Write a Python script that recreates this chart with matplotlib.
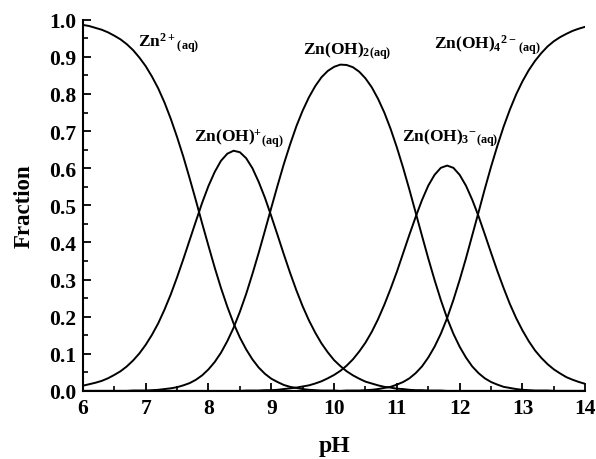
import numpy as np
import matplotlib.pyplot as plt
from matplotlib.ticker import MultipleLocator

plt.rcParams['font.family'] = ['Liberation Serif', 'DejaVu Serif']
plt.rcParams['font.weight'] = 'bold'
plt.rcParams['mathtext.fontset'] = 'custom'
plt.rcParams['mathtext.rm'] = 'Liberation Serif:bold'
plt.rcParams['mathtext.bf'] = 'Liberation Serif:bold'
plt.rcParams['mathtext.it'] = 'Liberation Serif:bold'

# pH grid and fractions (0.1 steps)
ph = [6.0, 6.1, 6.2, 6.3, 6.4, 6.5, 6.6, 6.7, 6.8, 6.9,
      7.0, 7.1, 7.2, 7.3, 7.4, 7.5, 7.6, 7.7, 7.8, 7.9,
      8.0, 8.1, 8.2, 8.3, 8.4, 8.5, 8.6, 8.7, 8.8, 8.9,
      9.0, 9.1, 9.2, 9.3, 9.4, 9.5, 9.6, 9.7, 9.8, 9.9,
      10.0, 10.1, 10.2, 10.3, 10.4, 10.5, 10.6, 10.7, 10.8, 10.9,
      11.0, 11.1, 11.2, 11.3, 11.4, 11.5, 11.6, 11.7, 11.8, 11.9,
      12.0, 12.1, 12.2, 12.3, 12.4, 12.5, 12.6, 12.7, 12.8, 12.9,
      13.0, 13.1, 13.2, 13.3, 13.4, 13.5, 13.6, 13.7, 13.8, 13.9, 14.0]

zn = [0.986, 0.983, 0.978, 0.973, 0.966, 0.957, 0.947, 0.934, 0.918, 0.898,
      0.875, 0.847, 0.815, 0.777, 0.733, 0.684, 0.631, 0.573, 0.513, 0.451,
      0.391, 0.332, 0.277, 0.227, 0.182, 0.144, 0.112, 0.085, 0.063, 0.046,
      0.033, 0.024, 0.016, 0.011, 0.008, 0.005, 0.003, 0.002, 0.001, 0.001,
      0.001, 0.0, 0.0, 0.0, 0.0, 0.0, 0.0, 0.0, 0.0, 0.0,
      0.0, 0.0, 0.0, 0.0, 0.0, 0.0, 0.0, 0.0, 0.0, 0.0,
      0.0, 0.0, 0.0, 0.0, 0.0, 0.0, 0.0, 0.0, 0.0, 0.0,
      0.0, 0.0, 0.0, 0.0, 0.0, 0.0, 0.0, 0.0, 0.0, 0.0, 0.0]

znoh = [0.014, 0.018, 0.022, 0.027, 0.034, 0.043, 0.053, 0.066, 0.082, 0.101,
        0.124, 0.151, 0.182, 0.219, 0.260, 0.306, 0.355, 0.406, 0.457, 0.507,
        0.552, 0.590, 0.620, 0.639, 0.647, 0.643, 0.627, 0.600, 0.563, 0.520,
        0.471, 0.420, 0.368, 0.318, 0.271, 0.228, 0.190, 0.157, 0.128, 0.104,
        0.083, 0.067, 0.053, 0.042, 0.033, 0.025, 0.020, 0.015, 0.011, 0.009,
        0.006, 0.005, 0.003, 0.002, 0.002, 0.001, 0.001, 0.001, 0.0, 0.0,
        0.0, 0.0, 0.0, 0.0, 0.0, 0.0, 0.0, 0.0, 0.0, 0.0,
        0.0, 0.0, 0.0, 0.0, 0.0, 0.0, 0.0, 0.0, 0.0, 0.0, 0.0]

znoh2 = [0.0, 0.0, 0.0, 0.0, 0.0, 0.0, 0.0, 0.0, 0.001, 0.001,
         0.001, 0.002, 0.003, 0.005, 0.007, 0.010, 0.015, 0.021, 0.030, 0.042,
         0.058, 0.078, 0.103, 0.134, 0.170, 0.213, 0.261, 0.315, 0.372, 0.432,
         0.493, 0.553, 0.611, 0.664, 0.713, 0.755, 0.791, 0.821, 0.845, 0.862,
         0.873, 0.879, 0.878, 0.872, 0.860, 0.842, 0.818, 0.787, 0.750, 0.706,
         0.656, 0.601, 0.542, 0.480, 0.418, 0.357, 0.299, 0.245, 0.196, 0.154,
         0.119, 0.090, 0.066, 0.048, 0.034, 0.024, 0.017, 0.011, 0.008, 0.005,
         0.003, 0.002, 0.001, 0.001, 0.001, 0.0, 0.0, 0.0, 0.0, 0.0, 0.0]

znoh3 = [0.0, 0.0, 0.0, 0.0, 0.0, 0.0, 0.0, 0.0, 0.0, 0.0,
         0.0, 0.0, 0.0, 0.0, 0.0, 0.0, 0.0, 0.0, 0.0, 0.0,
         0.0, 0.0, 0.0, 0.0, 0.0, 0.0, 0.001, 0.001, 0.001, 0.002,
         0.002, 0.003, 0.005, 0.007, 0.009, 0.012, 0.015, 0.020, 0.026, 0.034,
         0.043, 0.054, 0.068, 0.085, 0.106, 0.130, 0.159, 0.193, 0.232, 0.275,
         0.321, 0.371, 0.421, 0.469, 0.514, 0.553, 0.582, 0.601, 0.607, 0.601,
         0.582, 0.553, 0.515, 0.471, 0.422, 0.372, 0.323, 0.277, 0.234, 0.196,
         0.163, 0.134, 0.109, 0.089, 0.072, 0.058, 0.047, 0.037, 0.030, 0.024, 0.019]

znoh4 = [0.0, 0.0, 0.0, 0.0, 0.0, 0.0, 0.0, 0.0, 0.0, 0.0,
         0.0, 0.0, 0.0, 0.0, 0.0, 0.0, 0.0, 0.0, 0.0, 0.0,
         0.0, 0.0, 0.0, 0.0, 0.0, 0.0, 0.0, 0.0, 0.0, 0.0,
         0.0, 0.0, 0.0, 0.0, 0.0, 0.0, 0.0, 0.0, 0.0, 0.0,
         0.0, 0.0, 0.001, 0.001, 0.001, 0.002, 0.003, 0.005, 0.008, 0.011,
         0.017, 0.024, 0.034, 0.048, 0.066, 0.090, 0.119, 0.154, 0.196, 0.245,
         0.299, 0.357, 0.419, 0.481, 0.544, 0.604, 0.660, 0.712, 0.758, 0.799,
         0.834, 0.864, 0.889, 0.910, 0.928, 0.942, 0.953, 0.962, 0.970, 0.976, 0.981]

labels = [r'Zn$^{2+}$$_{\mathrm{(aq)}}$',
          r'Zn(OH)$^{+}$$_{\mathrm{(aq)}}$',
          r'Zn(OH)$_{\mathrm{2(aq)}}$',
          r'Zn(OH)$_{3}$$^{-}$$_{\mathrm{(aq)}}$',
          r'Zn(OH)$_{4}$$^{2-}$$_{\mathrm{(aq)}}$']
label_x = [6.88, 7.77, 9.5, 11.08, 11.59]
label_y = [0.927, 0.671, 0.908, 0.674, 0.922]

fig = plt.figure(figsize=(5.96, 4.6), dpi=100)
ax = fig.add_axes([0.139, 0.148, 0.843, 0.807])

for s in [zn, znoh, znoh2, znoh3, znoh4]:
    ax.plot(ph, s, color='black', lw=1.4)

for t, x, y in zip(labels, label_x, label_y):
    ax.text(x, y, t, fontsize=12.5, fontweight='bold', ha='left', va='baseline')

ax.set_xlim(6, 14)
ax.set_ylim(0, 1.0)
ax.xaxis.set_major_locator(MultipleLocator(1))
ax.xaxis.set_minor_locator(MultipleLocator(0.5))
ax.yaxis.set_major_locator(MultipleLocator(0.1))
ax.yaxis.set_minor_locator(MultipleLocator(0.05))
ax.yaxis.set_major_formatter(plt.FormatStrFormatter('%.1f'))
ax.tick_params(which='major', direction='in', length=6, width=1.3, labelsize=15.5, pad=5)
ax.tick_params(which='minor', direction='in', length=3.5, width=1.2)
ax.spines['top'].set_visible(False)
ax.spines['right'].set_visible(False)
ax.spines['left'].set_linewidth(1.5)
ax.spines['bottom'].set_linewidth(1.5)

ax.set_xlabel('pH', fontsize=17, fontweight='bold', labelpad=12)
ax.set_ylabel('Fraction', fontsize=16.5, fontweight='bold', labelpad=10)

fig.savefig('out.png', dpi=100)
